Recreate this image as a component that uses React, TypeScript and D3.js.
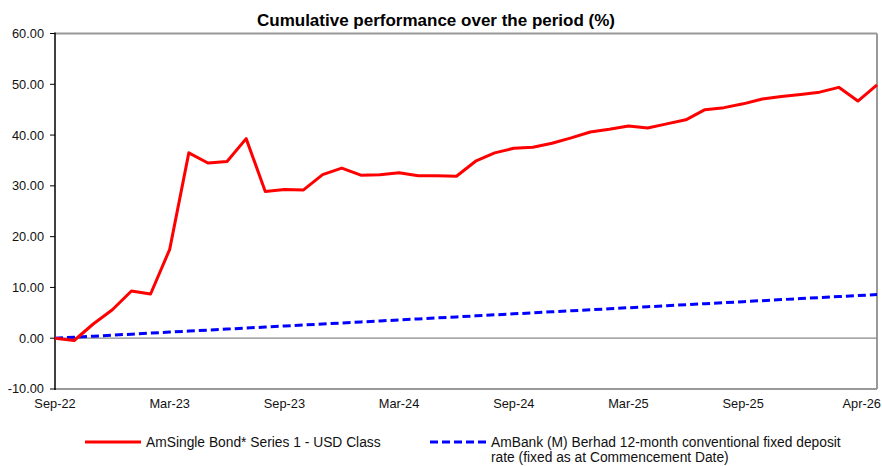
import React from 'react';
import * as d3 from 'd3';

// monthly observations, Sep-22 .. Apr-26
const fundValues = [
  0.0, -0.45, 2.8, 5.6, 9.3, 8.7, 17.5, 36.5, 34.5, 34.8, 39.3,
  28.9, 29.3, 29.2, 32.2, 33.5, 32.1, 32.2, 32.6, 32.0, 32.0, 31.9,
  34.85, 36.5, 37.4, 37.6, 38.4, 39.45, 40.6, 41.15, 41.8, 41.4, 42.2,
  43.0, 45.0, 45.4, 46.15, 47.1, 47.6, 48.0, 48.45, 49.4, 46.7, 49.9,
];
const depositValues = [
  0.0, 0.2, 0.4, 0.6, 0.8, 1.0, 1.2, 1.4, 1.6, 1.8, 2.0,
  2.2, 2.4, 2.6, 2.8, 3.0, 3.2, 3.4, 3.6, 3.8, 4.0, 4.2,
  4.4, 4.6, 4.8, 5.0, 5.2, 5.4, 5.6, 5.8, 6.0, 6.2, 6.4,
  6.6, 6.8, 7.0, 7.2, 7.4, 7.6, 7.8, 8.0, 8.2, 8.4, 8.6,
];
const xTickIndex = [0, 6, 12, 18, 24, 30, 36, 43];
const xTickLabels = ['Sep-22', 'Mar-23', 'Sep-23', 'Mar-24', 'Sep-24', 'Mar-25', 'Sep-25', 'Apr-26'];
const yTicks = [-10, 0, 10, 20, 30, 40, 50, 60];

const fundName = 'AmSingle Bond* Series 1 - USD Class';
const depositName = [
  'AmBank (M) Berhad 12-month conventional fixed deposit',
  'rate (fixed as at Commencement Date)',
];

export default function App() {
  const width = 882;
  const height = 466;
  const left = 55, right = 877, top = 33.5, bottom = 389;
  const font = '"Liberation Sans", Arial, sans-serif';

  const x = d3.scaleLinear().domain([0, fundValues.length - 1]).range([left, right]);
  const y = d3.scaleLinear().domain([-10, 60]).range([bottom, top]);

  const line = d3.line<number>()
    .x((_, i) => x(i))
    .y(d => y(d));

  return (
    <svg width={width} height={height} style={{ position: 'absolute', left: 0, top: 0 }} fontFamily={font}>
      <rect width={width} height={height} fill="#fff" />
      <text x={436} y={26} textAnchor="middle" fontSize={17} fontWeight="bold">
        Cumulative performance over the period (%)
      </text>

      {/* plot frame */}
      <line x1={left} x2={right} y1={top} y2={top} stroke="#999" strokeWidth={2} />
      <line x1={right} x2={right} y1={top} y2={bottom} stroke="#999" strokeWidth={2} />
      <line x1={left} x2={right} y1={bottom} y2={bottom} stroke="#999" strokeWidth={2} />
      <line x1={left} x2={right} y1={y(0)} y2={y(0)} stroke="#888" strokeWidth={1.2} />
      <line x1={left} x2={left} y1={top - 1} y2={bottom + 1} stroke="#000" strokeWidth={1.5} />

      {yTicks.map(t => (
        <g key={t}>
          <line x1={left - 5} x2={left} y1={y(t)} y2={y(t)} stroke="#000" strokeWidth={1} />
          <text x={44} y={y(t)} dy="0.35em" textAnchor="end" fontSize={12.8} fill="#111">
            {t.toFixed(2)}
          </text>
        </g>
      ))}

      {xTickIndex.map((idx, i) => {
        const last = i === xTickIndex.length - 1;
        return (
          <text key={idx} x={last ? x(idx) + 4 : x(idx)} y={408}
            textAnchor={last ? 'end' : 'middle'} fontSize={12.8} fill="#111">
            {xTickLabels[i]}
          </text>
        );
      })}

      <path d={line(depositValues) ?? ''} fill="none" stroke="#0000ff" strokeWidth={3}
        strokeDasharray="8 4" />
      <path d={line(fundValues) ?? ''} fill="none" stroke="#ff0000" strokeWidth={3}
        strokeLinejoin="round" />

      {/* legend */}
      <line x1={85} x2={141} y1={442} y2={442} stroke="#ff0000" strokeWidth={3} />
      <text x={146} y={447} fontSize={13.8} fill="#111">{fundName}</text>
      <line x1={430} x2={486} y1={442} y2={442} stroke="#0000ff" strokeWidth={3} strokeDasharray="8 4" />
      {depositName.map((s, i) => (
        <text key={i} x={491} y={447 + i * 15} fontSize={13.8} fill="#111">{s}</text>
      ))}
    </svg>
  );
}
